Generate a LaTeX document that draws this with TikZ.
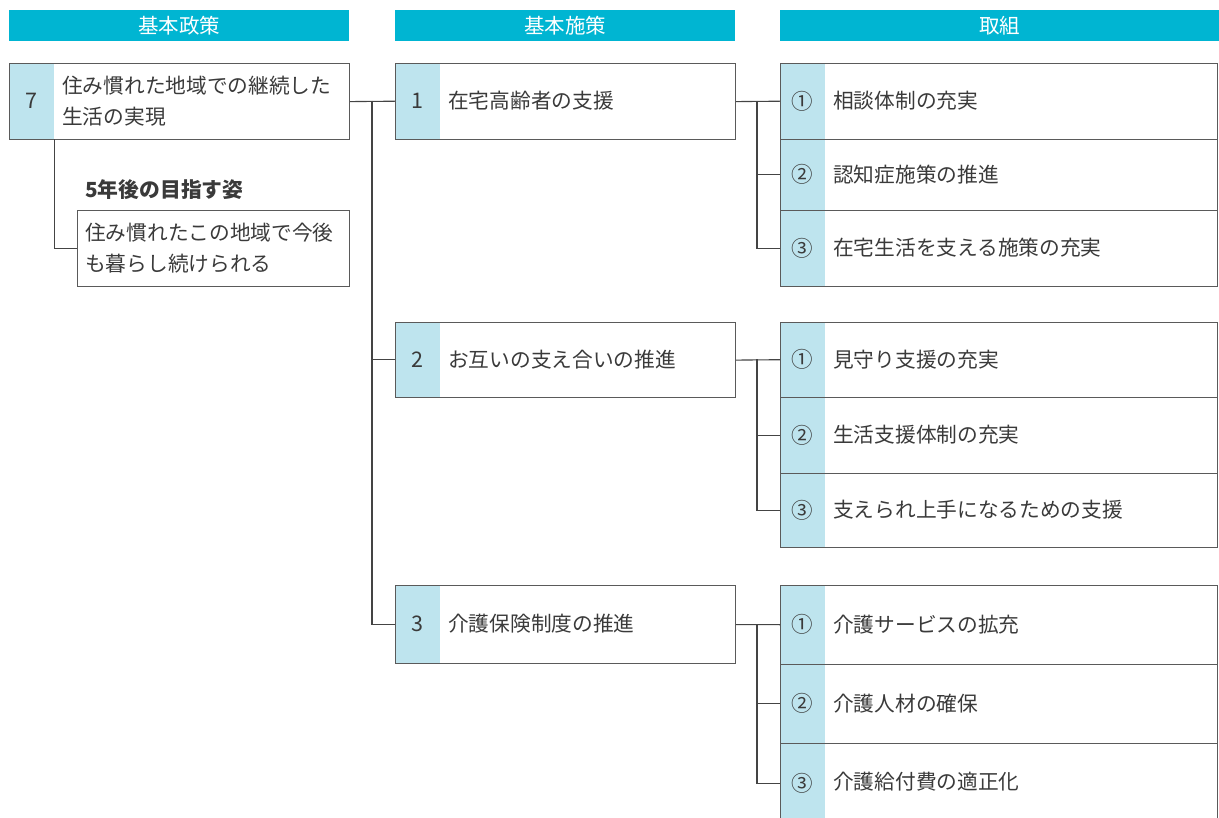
\documentclass[tikz,border=0pt]{standalone}
\usepackage{fontspec}
\setmainfont{Noto Sans CJK JP}
\definecolor{headcyan}{HTML}{00B5D2}
\definecolor{cellblue}{HTML}{BEE4EE}
\definecolor{txt}{HTML}{3A3A3A}
\definecolor{edge}{HTML}{5A5A5A}
\definecolor{wire}{HTML}{444444}
\tikzset{
  hdr/.style={fill=headcyan, text=white, anchor=north west, inner sep=0pt, font=\fontsize{20.5}{22}\selectfont},
  frame/.style={draw=edge, line width=1.2pt, anchor=north west, inner sep=0pt},
  numcell/.style={fill=cellblue, text=txt, anchor=north west, inner sep=0pt, minimum width=45pt, font=\fontsize{21.5}{24}\selectfont},
  lbl/.style={anchor=west, text=txt, inner sep=0pt, align=left, font=\fontsize{20.7}{31}\selectfont},
  wirestyle/.style={draw=wire, line width=1.1pt},
}
\begin{document}
\begin{tikzpicture}[x=1pt,y=-1pt]
\useasboundingbox (0,0) rectangle (1219,818);
\clip (0,0) rectangle (1219,818);
% headers
\node[hdr, minimum width=340pt, minimum height=31pt] (h1) at (9,10) {基本政策};
\node[hdr, minimum width=340pt, minimum height=31pt] (h2) at (395,10) {基本施策};
\node[hdr, minimum width=439pt, minimum height=31pt] (h3) at (780,10) {取組};
% policy
\node[numcell, minimum height=76pt] (pn) at (9,63) {7};
\node[frame, minimum width=340pt, minimum height=76pt] (p) at (9,63) {};
\node[lbl] (pt) at (62,101.5) {住み慣れた地域での継続した\\生活の実現};
% vision
\node[anchor=west, text=txt, inner sep=0pt, font=\fontsize{20.8}{22}\selectfont\bfseries] (vh) at (85,190) {5年後の目指す姿};
\node[frame, minimum width=272pt, minimum height=76pt] (v) at (77,210) {};
\node[lbl] (vt) at (85,248.5) {住み慣れたこの地域で今後\\も暮らし続けられる};
\draw[wirestyle] (pn.south east) |- (v.west);
% column 2
\node[numcell, minimum height=76pt] (b1n) at (395,63) {1};
\node[frame, minimum width=340pt, minimum height=76pt] (b1) at (395,63) {};
\node[lbl] (b1t) at (448,101) {在宅高齢者の支援};
\node[numcell, minimum height=75pt] (b2n) at (395,322) {2};
\node[frame, minimum width=340pt, minimum height=75pt] (b2) at (395,322) {};
\node[lbl] (b2t) at (448,359.5) {お互いの支え合いの推進};
\node[numcell, minimum height=78pt] (b3n) at (395,585) {3};
\node[frame, minimum width=340pt, minimum height=78pt] (b3) at (395,585) {};
\node[lbl] (b3t) at (448,624) {介護保険制度の推進};
% trunk from policy
\coordinate (tA) at (372,101);
\draw[wirestyle] (p.east) -- (b1n.west);
\draw[wirestyle] (tA) |- (b3n.west);
\draw[wirestyle] (tA |- b2n.west) -- (b2n.west);
% column 3 group 1
\node[numcell, minimum height=76pt] (c11n) at (780,63) {①};
\node[frame, minimum width=437pt, minimum height=76pt] (c11) at (780,63) {};
\node[lbl] (c11t) at (833,101) {相談体制の充実};
\node[numcell, minimum height=71pt] (c12n) at (780,139) {②};
\node[frame, minimum width=437pt, minimum height=71pt] (c12) at (780,139) {};
\node[lbl] (c12t) at (833,174.5) {認知症施策の推進};
\node[numcell, minimum height=76pt] (c13n) at (780,210) {③};
\node[frame, minimum width=437pt, minimum height=76pt] (c13) at (780,210) {};
\node[lbl] (c13t) at (833,248) {在宅生活を支える施策の充実};
% column 3 group 2
\node[numcell, minimum height=75pt] (c21n) at (780,322) {①};
\node[frame, minimum width=437pt, minimum height=75pt] (c21) at (780,322) {};
\node[lbl] (c21t) at (833,359.5) {見守り支援の充実};
\node[numcell, minimum height=76pt] (c22n) at (780,397) {②};
\node[frame, minimum width=437pt, minimum height=76pt] (c22) at (780,397) {};
\node[lbl] (c22t) at (833,435) {生活支援体制の充実};
\node[numcell, minimum height=74pt] (c23n) at (780,473) {③};
\node[frame, minimum width=437pt, minimum height=74pt] (c23) at (780,473) {};
\node[lbl] (c23t) at (833,510) {支えられ上手になるための支援};
% column 3 group 3
\node[numcell, minimum height=79pt] (c31n) at (780,585) {①};
\node[frame, minimum width=437pt, minimum height=79pt] (c31) at (780,585) {};
\node[lbl] (c31t) at (833,624.5) {介護サービスの拡充};
\node[numcell, minimum height=79pt] (c32n) at (780,664) {②};
\node[frame, minimum width=437pt, minimum height=79pt] (c32) at (780,664) {};
\node[lbl] (c32t) at (833,703.5) {介護人材の確保};
\node[numcell, minimum height=80pt] (c33n) at (780,743) {③};
\node[frame, minimum width=437pt, minimum height=80pt] (c33) at (780,743) {};
\node[lbl] (c33t) at (833,782) {介護給付費の適正化};
% connectors col2 -> col3
\coordinate (t1) at (757,101);
\draw[wirestyle] (b1.east) -- (c11n.west);
\draw[wirestyle] (t1) |- (c13n.west);
\draw[wirestyle] (t1 |- c12n.west) -- (c12n.west);
\coordinate (t2) at (757,359.5);
\draw[wirestyle] (b2.east) -- (c21n.west);
\draw[wirestyle] (t2) |- (c23n.west);
\draw[wirestyle] (t2 |- c22n.west) -- (c22n.west);
\coordinate (t3) at (757,624);
\draw[wirestyle] (b3.east) -- (c31n.west);
\draw[wirestyle] (t3) |- (c33n.west);
\draw[wirestyle] (t3 |- c32n.west) -- (c32n.west);
\end{tikzpicture}
\end{document}
